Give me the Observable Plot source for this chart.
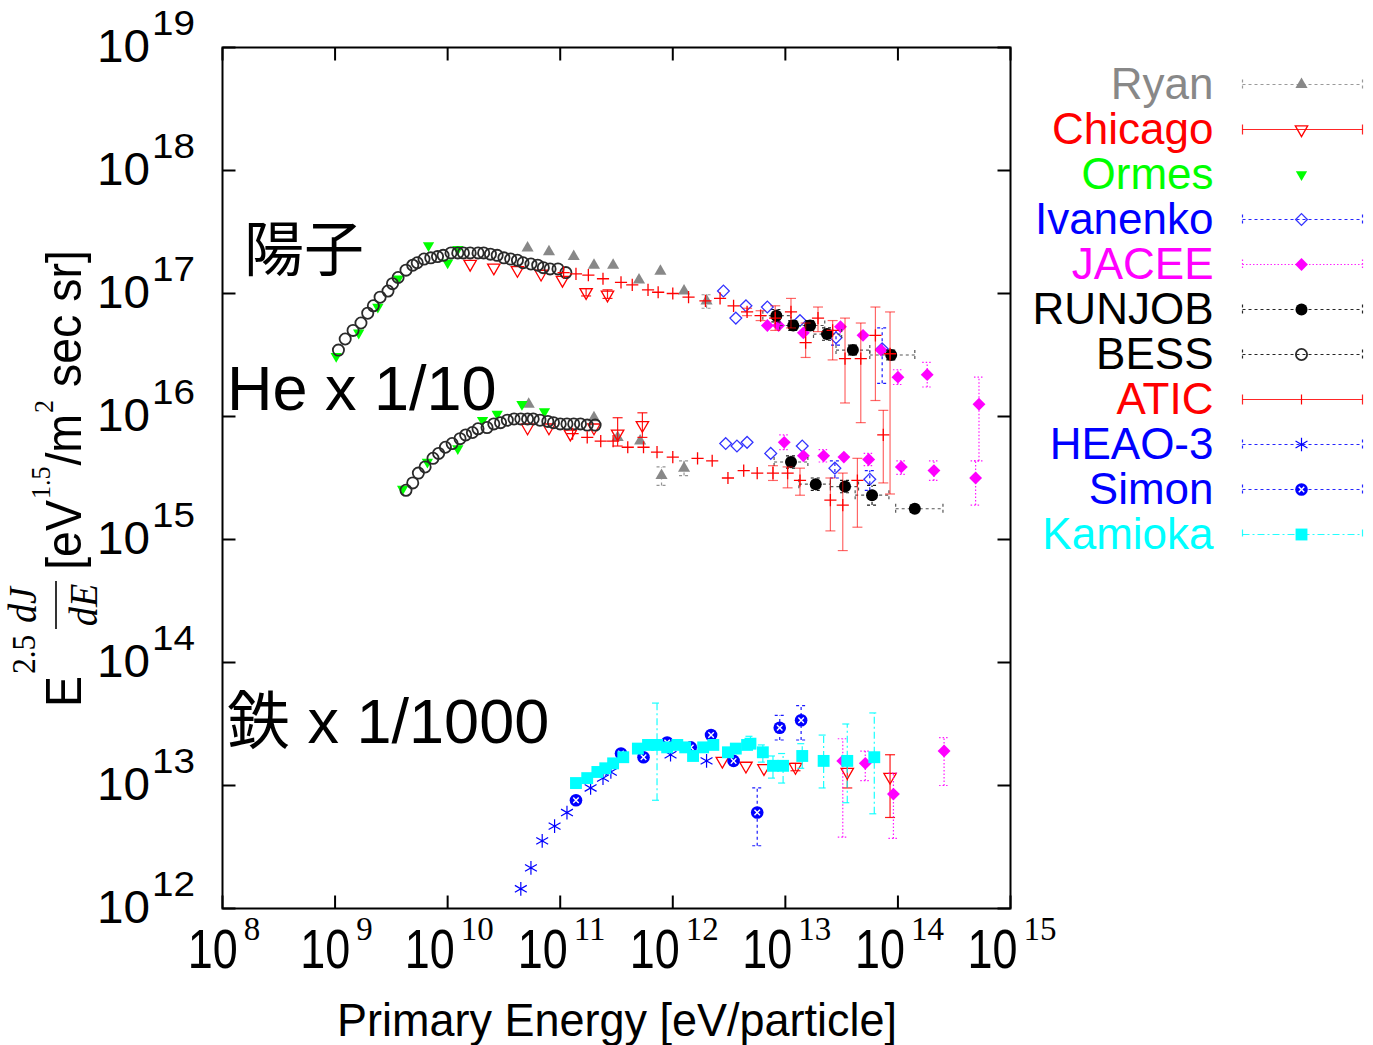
<!DOCTYPE html>
<html>
<head>
<meta charset="utf-8">
<script src="https://cdn.jsdelivr.net/npm/d3@7"></script>
<script src="https://cdn.jsdelivr.net/npm/@observablehq/plot@0.6"></script>
<style>
  html, body { margin: 0; padding: 0; background: #fff; }
  #chart { position: relative; width: 1373px; height: 1045px; }
  #legend { position: absolute; left: 1030px; top: 60px; }
</style>
</head>
<body>
<div id="chart"><div id="legend"></div></div>
<script>
// Cosmic-ray energy spectra, E^2.5 dJ/dE versus primary energy.
// Rows: [log10 E, log10 flux, log10 flux low, log10 flux high, log10 E low, log10 E high]

const ryanP = [[10.71,17.37],[10.90,17.34],[11.12,17.30],[11.30,17.23],[11.47,17.23],[11.70,17.11],[11.89,17.18],[12.10,17.02],[12.30,16.94,16.88,16.99]];
const ryanHe = [[10.72,16.10],[11.30,15.99],[11.51,15.83],[11.71,15.80],[11.90,15.52,15.44,15.59],[12.10,15.58,15.52,15.64]];

const chicagoP = [[10.20,17.24],[10.41,17.21],[10.62,17.19],[10.83,17.16],[11.02,17.11],[11.23,17.01,16.98,17.04],[11.42,16.99,16.96,17.03]];
const chicagoHe = [[10.71,15.91],[10.90,15.91],[11.09,15.86],[11.30,15.91],[11.51,15.86,15.76,15.99],[11.73,15.93,15.83,16.03]];
const chicagoFe = [[12.44,13.20],[12.65,13.16],[12.81,13.14],[13.09,13.15,13.12,13.18],[13.55,13.11,12.98,13.19],[13.93,13.07,12.74,13.25]];

const ormesP = [[9.01,16.49],[9.21,16.68],[9.38,16.89],[9.56,17.12],[9.83,17.39],[10.00,17.25],[10.09,17.36]];
const ormesHe = [[9.60,15.41],[9.82,15.63],[10.09,15.74],[10.31,15.97],[10.44,16.02],[10.66,16.10],[10.86,16.04]];

const ivanenkoP = [[12.45,17.02],[12.56,16.80],[12.65,16.90],[12.84,16.89],[13.13,16.78],[13.45,16.64,16.58,16.70],[13.86,16.55,16.27,16.72]];
const ivanenkoHe = [[12.47,15.78],[12.57,15.76],[12.66,15.79],[12.87,15.70],[13.15,15.76],[13.44,15.58,15.50,15.64],[13.75,15.49,15.40,15.56]];

const jaceeP = [[12.84,16.74],[12.94,16.74],[13.16,16.68],[13.49,16.73],[13.69,16.66],[13.85,16.54],[14.00,16.32,16.26,16.38],[14.26,16.34,16.24,16.44],[14.72,16.10,15.64,16.32]];
const jaceeHe = [[12.99,15.79,15.73,15.85],[13.16,15.68],[13.34,15.68,15.63,15.73],[13.52,15.67],[13.74,15.65,15.60,15.70],[14.03,15.59,15.53,15.64],[14.32,15.56,15.48,15.64],[14.69,15.50,15.28,15.64]];
const jaceeFe = [[13.51,13.20,12.58,13.38],[13.71,13.18,13.04,13.28],[13.96,12.93,12.57,13.10],[14.41,13.28,13.00,13.39]];

const runjobP = [[12.92,16.82,16.77,16.87,12.80,13.05],[13.07,16.74,16.70,16.78,12.95,13.20],[13.22,16.74,16.70,16.78,13.10,13.35],[13.37,16.67,16.62,16.72,13.25,13.50],[13.60,16.54,16.50,16.58,13.45,13.75],[13.94,16.50,16.46,16.54,13.75,14.15]];
const runjobHe = [[13.05,15.63,15.58,15.68,12.90,13.20],[13.27,15.45,15.40,15.50,13.12,13.40],[13.53,15.43,15.38,15.48,13.40,13.65],[13.77,15.36,15.28,15.44,13.62,13.92],[14.15,15.25,15.22,15.28,13.98,14.40]];

const bessP = [[9.03,16.54],[9.09,16.63],[9.16,16.70],[9.23,16.76],[9.29,16.84],[9.34,16.90],[9.40,16.97],[9.47,17.02],[9.51,17.08],[9.56,17.13],[9.63,17.19],[9.69,17.23],[9.73,17.25],[9.79,17.28],[9.85,17.29],[9.91,17.30],[9.96,17.31],[10.03,17.33],[10.09,17.33],[10.14,17.33],[10.20,17.33],[10.27,17.33],[10.32,17.33],[10.38,17.32],[10.44,17.31],[10.50,17.29],[10.56,17.28],[10.62,17.27],[10.67,17.25],[10.74,17.24],[10.80,17.23],[10.85,17.21],[10.91,17.20],[10.98,17.20],[11.05,17.17]];
const bessHe = [[9.63,15.40],[9.69,15.46],[9.74,15.54],[9.80,15.59],[9.87,15.66],[9.92,15.70],[9.98,15.75],[10.04,15.78],[10.11,15.82],[10.16,15.85],[10.22,15.87],[10.27,15.90],[10.35,15.91],[10.41,15.94],[10.47,15.95],[10.53,15.97],[10.59,15.98],[10.65,15.98],[10.71,15.98],[10.76,15.98],[10.82,15.97],[10.89,15.96],[10.94,15.95],[11.00,15.94],[11.06,15.94],[11.12,15.94],[11.18,15.94],[11.24,15.93],[11.31,15.93]];

const aticP = [[11.03,17.17],[11.14,17.16],[11.25,17.15],[11.38,17.12],[11.54,17.09],[11.64,17.07],[11.78,17.03],[11.87,17.01],[12.00,17.00],[12.14,16.97],[12.29,16.94],[12.42,16.96],[12.54,16.90],[12.66,16.85,16.82,16.88],[12.78,16.82,16.78,16.86],[12.91,16.80,16.70,16.90],[13.05,16.85,16.72,16.96],[13.18,16.60,16.48,16.76],[13.29,16.80,16.69,16.89],[13.42,16.70,16.46,16.78],[13.53,16.47,16.11,16.80],[13.67,16.47,15.95,16.76],[13.80,16.66,16.13,16.89],[13.93,16.51,15.37,16.85]];
const aticHe = [[11.11,15.86],[11.24,15.83],[11.36,15.80],[11.47,15.80],[11.60,15.75],[11.74,15.75],[11.86,15.71],[12.00,15.67],[12.22,15.66],[12.35,15.64],[12.49,15.50],[12.63,15.56],[12.75,15.54],[12.89,15.54,15.48,15.60],[13.02,15.54,15.42,15.59],[13.13,15.48,15.36,15.58],[13.40,15.32,15.07,15.50],[13.51,15.28,14.91,15.54],[13.64,15.48,15.10,15.66],[13.87,15.85,15.46,16.05]];

const heao3Fe = [[10.65,12.16],[10.74,12.33],[10.84,12.55],[10.95,12.67],[11.06,12.78],[11.27,12.98],[11.38,13.06],[11.45,13.11],[11.98,13.25],[12.30,13.20]];
const simonFe = [[11.14,12.88],[11.54,13.26],[11.74,13.23],[11.95,13.35],[12.16,13.31],[12.34,13.41],[12.54,13.20],[12.75,12.78,12.51,12.98],[12.95,13.47,13.37,13.57],[13.14,13.53,13.37,13.65]];
const kamiokaFe = [[11.14,13.02],[11.24,13.06],[11.33,13.11],[11.40,13.14],[11.47,13.18],[11.56,13.23],[11.69,13.30],[11.78,13.33],[11.86,13.33,12.88,13.67],[11.95,13.31],[12.04,13.33],[12.11,13.31],[12.18,13.24],[12.27,13.31],[12.36,13.33],[12.49,13.27],[12.56,13.30],[12.66,13.33],[12.69,13.34,13.30,13.40],[12.80,13.27,13.19,13.33],[12.89,13.16,13.06,13.24],[12.98,13.16,13.02,13.26],[13.15,13.24,13.14,13.34],[13.34,13.20,12.98,13.41],[13.55,13.20,12.86,13.50],[13.79,13.23,12.77,13.59]];

const seriesNames = ["Ryan", "Chicago", "Ormes", "Ivanenko", "JACEE", "RUNJOB", "BESS", "ATIC", "HEAO-3", "Simon", "Kamioka"];
const seriesGroups = [
  [ryanP, ryanHe],
  [chicagoP, chicagoHe, chicagoFe],
  [ormesP, ormesHe],
  [ivanenkoP, ivanenkoHe],
  [jaceeP, jaceeHe, jaceeFe],
  [runjobP, runjobHe],
  [bessP, bessHe],
  [aticP, aticHe],
  [heao3Fe],
  [simonFe],
  [kamiokaFe]
];

const xTickExp = [8, 9, 10, 11, 12, 13, 14, 15];
const yTickExp = [12, 13, 14, 15, 16, 17, 18, 19];

const annoText = ["陽子", "He x 1/10", "鉄 x 1/1000"];
const annoE = [8.19, 8.04, 8.04];
const annoF = [17.34, 16.22, 13.51];

const SANS = "'Liberation Sans', Arial, Helvetica, 'Noto Sans CJK JP', sans-serif";
const SERIF = "'Liberation Serif', 'Times New Roman', serif";

// ---- custom symbols ----
const triDown = {
  draw(ctx, size) {
    const y = -Math.sqrt(size / (Math.sqrt(3) * 3));
    ctx.moveTo(0, -2 * y);
    ctx.lineTo(-Math.sqrt(3) * y, y);
    ctx.lineTo(Math.sqrt(3) * y, y);
    ctx.closePath();
  }
};
const capH = { draw(ctx) { ctx.moveTo(-5, 0); ctx.lineTo(5, 0); } };
const capV = { draw(ctx) { ctx.moveTo(0, -5); ctx.lineTo(0, 5); } };
const tickUp = { draw(ctx) { ctx.moveTo(0, 0); ctx.lineTo(0, -13); } };
const tickDown = { draw(ctx) { ctx.moveTo(0, 0); ctx.lineTo(0, 13); } };
const tickRight = { draw(ctx) { ctx.moveTo(0, 0); ctx.lineTo(13, 0); } };
const tickLeft = { draw(ctx) { ctx.moveTo(0, 0); ctx.lineTo(-13, 0); } };

// ---- per-series drawing style ----
const styles = {
  "Ryan":     {color: "#888888", symbol: "triangle", r: 4.5, fill: "#888888", stroke: "none", dash: "3,3"},
  "Chicago":  {color: "#ff0000", symbol: triDown, r: 4.6, fill: "none", stroke: "#ff0000", sw: 1.3, dash: null},
  "Ormes":    {color: "#00ff00", symbol: triDown, r: 4.2, fill: "#00ff00", stroke: "none", dash: null, noLine: true},
  "Ivanenko": {color: "#0000ff", symbol: "diamond2", r: 5.3, fill: "none", stroke: "#3333ff", sw: 1.3, dash: "3,3"},
  "JACEE":    {color: "#ff00ff", symbol: "diamond2", r: 5.8, fill: "#ff00ff", stroke: "none", dash: "1.5,2"},
  "RUNJOB":   {color: "#000000", symbol: "circle", r: 6, fill: "#000000", stroke: "none", dash: "3,3"},
  "BESS":     {color: "#000000", symbol: "circle", r: 5.6, fill: "none", stroke: "#2a2a2a", sw: 1.8, dash: "3,3"},
  "ATIC":     {color: "#ff0000", symbol: "plus", r: 4, fill: "none", stroke: "#ff0000", sw: 1.3, dash: null, barOpacity: 0.6, center: true},
  "HEAO-3":   {color: "#0000ff", symbol: "asterisk", r: 6.5, fill: "none", stroke: "#0000ff", sw: 1.2, dash: "3,3"},
  "Simon":    {color: "#0000ff", symbol: "circle", r: 6.3, fill: "#0000ff", stroke: "none", dash: "3,3", inner: true},
  "Kamioka":  {color: "#00ffff", symbol: "square", r: 6.7, fill: "#00ffff", stroke: "none", dash: "7,3,2,3"}
};

// ---- flatten into one table ----
const table = [];
seriesNames.forEach((name, i) => {
  for (const arr of seriesGroups[i]) {
    for (const [e, f, lo, hi, elo, ehi] of arr) {
      table.push({
        name,
        E: 10 ** e, F: 10 ** f,
        lo: lo == null ? null : 10 ** lo, hi: hi == null ? null : 10 ** hi,
        elo: elo == null ? null : 10 ** elo, ehi: ehi == null ? null : 10 ** ehi
      });
    }
  }
});

const marks = [];

// annotation labels
marks.push(Plot.text(annoText, {
  x: (d, i) => 10 ** annoE[i], y: (d, i) => 10 ** annoF[i], text: d => d,
  textAnchor: "start", lineAnchor: "middle", fontSize: (d, i) => (i === 0 ? 60 : 63),
  fontFamily: SANS, fill: "black"
}));

// series: error bars first, then symbols
for (const name of seriesNames) {
  const s = styles[name];
  const rows = table.filter(d => d.name === name);
  const vb = rows.filter(d => d.lo != null);
  const hb = rows.filter(d => d.elo != null);
  const barStyle = {stroke: s.color, strokeWidth: 1.2, strokeDasharray: s.dash, strokeOpacity: s.barOpacity ?? 0.9};
  if (vb.length) {
    marks.push(Plot.link(vb, {x1: "E", x2: "E", y1: "lo", y2: "hi", ...barStyle}));
    marks.push(Plot.dot(vb, {x: "E", y: "lo", symbol: capH, r: 3, fill: "none", ...barStyle}));
    marks.push(Plot.dot(vb, {x: "E", y: "hi", symbol: capH, r: 3, fill: "none", ...barStyle}));
  }
  if (hb.length) {
    marks.push(Plot.link(hb, {x1: "elo", x2: "ehi", y1: "F", y2: "F", ...barStyle, stroke: "#444"}));
    marks.push(Plot.dot(hb, {x: "elo", y: "F", symbol: capV, r: 3, fill: "none", ...barStyle, stroke: "#444"}));
    marks.push(Plot.dot(hb, {x: "ehi", y: "F", symbol: capV, r: 3, fill: "none", ...barStyle, stroke: "#444"}));
  }
  marks.push(Plot.dot(rows, {x: "E", y: "F", symbol: s.symbol, r: s.r, fill: s.fill, stroke: s.stroke, strokeWidth: s.sw ?? 1}));
  if (s.inner) {
    marks.push(Plot.dot(rows, {x: "E", y: "F", symbol: "times", r: 2.6, fill: "none", stroke: "white", strokeWidth: 1.4}));
  }
}

// frame and inward ticks on all four sides
marks.push(Plot.frame({stroke: "black", strokeWidth: 2}));
const xt = xTickExp.map(k => 10 ** k);
const ytv = yTickExp.map(k => 10 ** k);
marks.push(Plot.dot(xt, {x: d => d, y: () => 1e12, symbol: tickUp, r: 1, fill: "none", stroke: "black", strokeWidth: 2}));
marks.push(Plot.dot(xt, {x: d => d, y: () => 1e19, symbol: tickDown, r: 1, fill: "none", stroke: "black", strokeWidth: 2}));
marks.push(Plot.dot(ytv, {x: () => 1e8, y: d => d, symbol: tickRight, r: 1, fill: "none", stroke: "black", strokeWidth: 2}));
marks.push(Plot.dot(ytv, {x: () => 1e15, y: d => d, symbol: tickLeft, r: 1, fill: "none", stroke: "black", strokeWidth: 2}));

const plot = Plot.plot({
  width: 1373,
  height: 1045,
  marginLeft: 222,
  marginRight: 363,
  marginTop: 47,
  marginBottom: 137,
  x: {type: "log", domain: [1e8, 1e15], axis: null},
  y: {type: "log", domain: [1e12, 1e19], axis: null},
  style: {background: "white"},
  marks
});
const chart = document.getElementById("chart");
chart.insertBefore(plot, chart.firstChild);

// ---- tick labels with superscript exponents ----
const sx = plot.scale("x"), sy = plot.scale("y");
const svg = d3.select(plot);
const lab = svg.append("g").attr("fill", "black").attr("text-anchor", "start");
const xBase = sy.apply(1e12);
for (const k of xTickExp) {
  const px = sx.apply(10 ** k);
  // narrow "10" base, then a serif exponent
  const g = lab.append("g");
  const base = g.append("text").attr("font-family", SANS).attr("font-size", 56).text("10");
  const bw = base.node().getComputedTextLength();
  const sup = g.append("text").attr("font-family", SERIF).attr("font-size", 33).text(String(k));
  const supW = sup.node().getComputedTextLength();
  const total = 50 + 6 + supW;
  const x0 = px - total / 2 + 2;
  base.attr("transform", `translate(${x0},${xBase + 60}) scale(${50 / bw},1)`);
  sup.attr("x", x0 + 56).attr("y", xBase + 32);
}
const yBase = sx.apply(1e8);
for (const k of yTickExp) {
  const py = sy.apply(10 ** k);
  lab.append("text").attr("x", yBase - 125).attr("y", py + 15)
    .attr("font-family", SANS).attr("font-size", 47)
    .attr("textLength", 53).attr("lengthAdjust", "spacingAndGlyphs").text("10");
  lab.append("text").attr("x", yBase - 70).attr("y", py - 12)
    .attr("font-family", SANS).attr("font-size", 35)
    .attr("textLength", 43).attr("lengthAdjust", "spacingAndGlyphs").text(String(k));
}

// ---- axis titles ----
svg.append("text").attr("x", 617).attr("y", 1036).attr("text-anchor", "middle")
  .attr("font-family", SANS).attr("font-size", 46)
  .attr("textLength", 560).attr("lengthAdjust", "spacingAndGlyphs")
  .text("Primary Energy [eV/particle]");

const yt = svg.append("g").attr("transform", "translate(81,707) rotate(-90)").attr("text-anchor", "start");
const inner = yt.append("g").attr("fill", "black");
let cx = 0;
function piece(txt, size, family, dy, gap, style) {
  cx += gap || 0;
  const t = inner.append("text").attr("x", cx).attr("y", dy)
    .attr("font-size", size).attr("font-family", family)
    .attr("font-style", style || null).text(txt);
  cx += t.node().getComputedTextLength();
}
piece("E", 50, SANS, 0);
piece("2.5", 34, SERIF, -46, 2);
cx += 6;
const fx = cx;
const num = inner.append("text").attr("y", -45).attr("text-anchor", "middle")
  .attr("font-size", 41).attr("font-family", SERIF).attr("font-style", "italic").text("dJ");
const den = inner.append("text").attr("y", 16).attr("text-anchor", "middle")
  .attr("font-size", 41).attr("font-family", SERIF).attr("font-style", "italic").text("dE");
const fw = Math.max(num.node().getComputedTextLength(), den.node().getComputedTextLength()) + 6;
num.attr("x", fx + fw / 2);
den.attr("x", fx + fw / 2);
inner.append("line").attr("x1", fx).attr("x2", fx + fw).attr("y1", -25).attr("y2", -25)
  .attr("stroke", "black").attr("stroke-width", 1.6);
cx = fx + fw + 12;
piece("[eV", 50, SANS, 0);
piece("1.5", 28, SERIF, -31, 1);
piece("/m", 50, SANS, 0, 1);
piece("2", 28, SERIF, -28, 1);
piece(" sec sr]", 50, SANS, 0);
inner.attr("transform", `scale(${457 / cx},1)`);

// ---- legend ----
const legendMarks = [];
for (const name of seriesNames) {
  const s = styles[name];
  const one = [name];
  legendMarks.push(Plot.text(one, {x: () => 183, y: d => d, text: d => d, fill: s.color,
    textAnchor: "end", lineAnchor: "middle", fontSize: 44, fontFamily: SANS}));
  if (!s.noLine) {
    const ls = {stroke: s.color, strokeWidth: 1.2, strokeDasharray: s.dash, strokeOpacity: 0.85};
    legendMarks.push(Plot.link(one, {x1: () => 212, x2: () => 332, y1: d => d, y2: d => d, ...ls}));
    legendMarks.push(Plot.dot(one, {x: () => 212, y: d => d, symbol: capV, r: 3, fill: "none", ...ls}));
    legendMarks.push(Plot.dot(one, {x: () => 332, y: d => d, symbol: capV, r: 3, fill: "none", ...ls}));
  }
  if (s.center) {
    legendMarks.push(Plot.dot(one, {x: () => 271, y: d => d, symbol: capV, r: 3, fill: "none", stroke: s.color, strokeWidth: 1.2}));
  } else {
    legendMarks.push(Plot.dot(one, {x: () => 271, y: d => d, symbol: s.symbol, r: s.r, fill: s.fill, stroke: s.stroke, strokeWidth: s.sw ?? 1}));
    if (s.inner) {
      legendMarks.push(Plot.dot(one, {x: () => 271, y: d => d, symbol: "times", r: 2.6, fill: "none", stroke: "white", strokeWidth: 1.4}));
    }
  }
}
const legend = Plot.plot({
  width: 343,
  height: 500,
  marginLeft: 0, marginRight: 0, marginTop: 23, marginBottom: 25,
  x: {domain: [0, 343], range: [0, 343], axis: null},
  y: {type: "point", domain: seriesNames, padding: 0, axis: null},
  marks: legendMarks
});
document.getElementById("legend").appendChild(legend);
</script>
</body>
</html>
